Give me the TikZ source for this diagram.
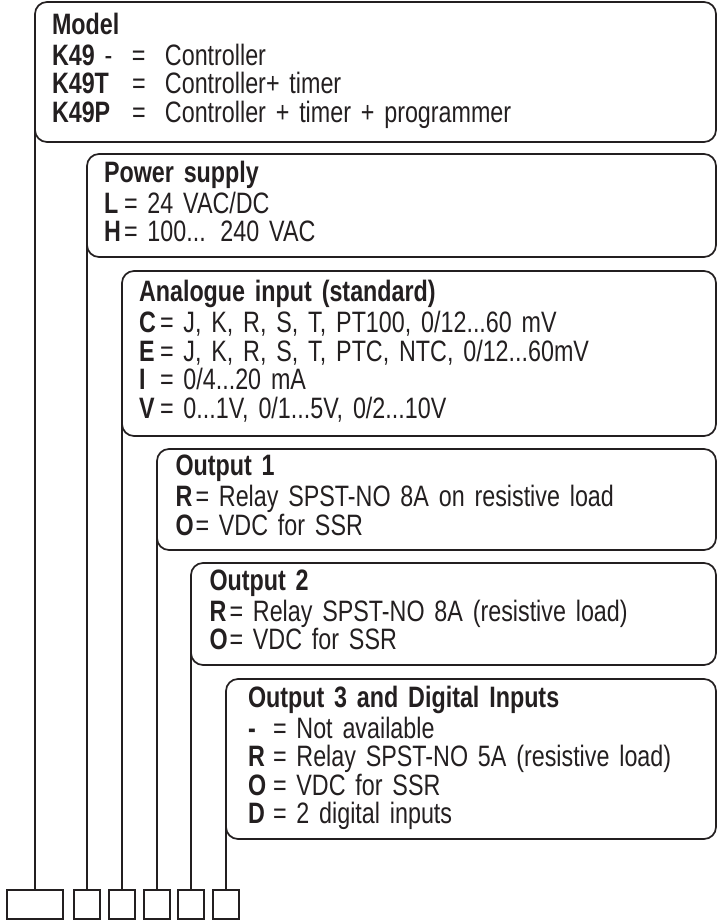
\documentclass[tikz,border=0pt]{standalone}
\usepackage{fontspec}
\setmainfont[FakeStretch=0.79]{Liberation Sans}
\definecolor{ink}{RGB}{35,31,32}
\newcommand\codeline[3]{\makebox[#1][l]{\textbf{#2}}= #3}
\tikzset{
    infobox/.style={draw=ink, line width=1.7pt, rounded corners=12pt,
        anchor=north west, align=left, inner xsep=17pt, inner ysep=0pt,
        outer sep=0pt, text=ink, font=\fontsize{29.5}{28.5}\selectfont},
    keybox/.style={draw=ink, line width=1.7pt, minimum width=26pt,
        minimum height=29pt, inner sep=0pt, outer sep=0pt},
    lead/.style={draw=ink, line width=1.7pt}
}

\begin{document}
\begin{tikzpicture}[x=1pt, y=-1pt]
    \useasboundingbox (0,0) rectangle (719,920);
    % option boxes
    \node[infobox, minimum width=681pt, text width=647pt, minimum height=140pt] (model) at (35,2)
        {\strut\textbf{Model}\\
         \makebox[80pt][l]{\textbf{K49} -}\makebox[33pt][l]{=}Controller\\
         \makebox[80pt][l]{\textbf{K49T}}\makebox[33pt][l]{=}Controller+ timer\\
         \makebox[80pt][l]{\textbf{K49P}}\makebox[33pt][l]{=}Controller + timer + programmer\strut};
    \node[infobox, minimum width=629pt, text width=595pt, minimum height=103pt] (power) at (87,154)
        {\strut\textbf{Power supply}\\
         \codeline{20pt}{L}{24 VAC/DC}\\
         \codeline{20pt}{H}{100... 240 VAC}\strut};
    \node[infobox, minimum width=594pt, text width=560pt, minimum height=165pt] (input) at (122,271)
        {\strut\textbf{Analogue input (standard)}\\
         \codeline{21pt}{C}{J, K, R, S, T, PT100, 0/12...60 mV}\\
         \codeline{21pt}{E}{J, K, R, S, T, PTC, NTC, 0/12...60mV}\\
         \codeline{21pt}{I}{0/4...20 mA}\\
         \codeline{21pt}{V}{0...1V, 0/1...5V, 0/2...10V}\strut};
    \node[infobox, inner xsep=18.5pt, minimum width=559pt, text width=522pt, minimum height=101pt] (out1) at (157,449)
        {\strut\textbf{Output 1}\\
         \codeline{20pt}{R}{Relay SPST-NO 8A on resistive load}\\
         \codeline{20pt}{O}{VDC for SSR}\strut};
    \node[infobox, inner xsep=18.5pt, minimum width=525pt, text width=488pt, minimum height=102pt] (out2) at (191,563)
        {\strut\textbf{Output 2}\\
         \codeline{20pt}{R}{Relay SPST-NO 8A (resistive load)}\\
         \codeline{20pt}{O}{VDC for SSR}\strut};
    \node[infobox, inner xsep=22pt, minimum width=490pt, text width=446pt, minimum height=160pt] (out3) at (226,679)
        {\strut\textbf{Output 3 and Digital Inputs}\\
         \codeline{25pt}{-}{Not available}\\
         \codeline{25pt}{R}{Relay SPST-NO 5A (resistive load)}\\
         \codeline{25pt}{O}{VDC for SSR}\\
         \codeline{25pt}{D}{2 digital inputs}\strut};
    % code fields
    \coordinate (base) at (0,904.5);
    \node[keybox, minimum width=56pt] (kmodel) at (model.west |- base) {};
    \node[keybox] (kpower) at (power.west |- base) {};
    \node[keybox] (kinput) at (input.west |- base) {};
    \node[keybox] (kout1) at (out1.west |- base) {};
    \node[keybox] (kout2) at (out2.west |- base) {};
    \node[keybox] (kout3) at (out3.west |- base) {};
    \draw[lead] (model.west) -- (kmodel.north);
    \draw[lead] (power.west) -- (kpower.north);
    \draw[lead] (input.west) -- (kinput.north);
    \draw[lead] (out1.west) -- (kout1.north);
    \draw[lead] (out2.west) -- (kout2.north);
    \draw[lead] (out3.west) -- (kout3.north);
\end{tikzpicture}
\end{document}
